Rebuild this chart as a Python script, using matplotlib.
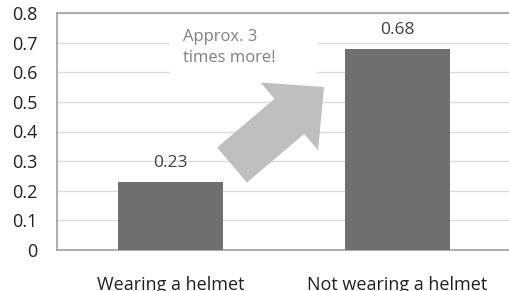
import matplotlib.pyplot as plt
import matplotlib.patches as mpatches

categories = ['Wearing a helmet', 'Not wearing a helmet']
values = [0.23, 0.68]
yticks = [0, 0.1, 0.2, 0.3, 0.4, 0.5, 0.6, 0.7, 0.8]
ytick_labels = ['0', '0.1', '0.2', '0.3', '0.4', '0.5', '0.6', '0.7', '0.8']
note = 'Approx. 3\ntimes more!'

plt.rcParams['font.family'] = ['Open Sans', 'DejaVu Sans']

W, H = 509, 291
fig = plt.figure(figsize=(W / 100, H / 100), dpi=100)
ax = fig.add_axes([57 / W, (H - 250) / H, 454 / W, 237 / H])

x = range(len(categories))
ax.bar(x, values, width=0.46, color='#6f6f6f', zorder=3)
for xi, v in zip(x, values):
    ax.text(xi, v + 0.035, f'{v:.2f}', ha='center', va='bottom',
            fontsize=12.5, color='#404040', zorder=4)

ax.set_xlim(-0.5, 1.5)
ax.set_ylim(0, 0.8)
ax.set_yticks(yticks)
ax.set_yticklabels(ytick_labels, fontsize=13, color='#202020')
ax.set_xticks(list(x))
ax.set_xticklabels(categories, fontsize=13, color='#202020')
ax.tick_params(axis='both', length=0)
ax.tick_params(axis='x', pad=19)
ax.tick_params(axis='y', pad=14)
ax.grid(axis='y', color='#dcdcdc', linewidth=1, zorder=0)
for s in ax.spines.values():
    s.set_color('#a0a0a0')
    s.set_linewidth(1.2)

px = fig.dpi_scale_trans  # 1 unit = 100 px

# white text box hiding the gridlines behind the note
box = mpatches.Rectangle((1.70, (H - 82) / 100), 1.47, 0.48,
                         facecolor='white', edgecolor='none',
                         transform=px, zorder=5)
fig.patches.append(box)
fig.text(183 / W, (H - 29) / H, note, fontsize=12, color='#808080',
         ha='left', va='top', linespacing=1.45, zorder=6)

# big grey arrow
arrow = mpatches.FancyArrow(2.32, (H - 165) / 100, 0.92, 0.78,
                            width=0.46, head_width=0.89, head_length=0.455,
                            length_includes_head=True, color='#bfbfbf',
                            linewidth=0, transform=px, zorder=6)
fig.patches.append(arrow)

fig.savefig('out.png', dpi=100)
